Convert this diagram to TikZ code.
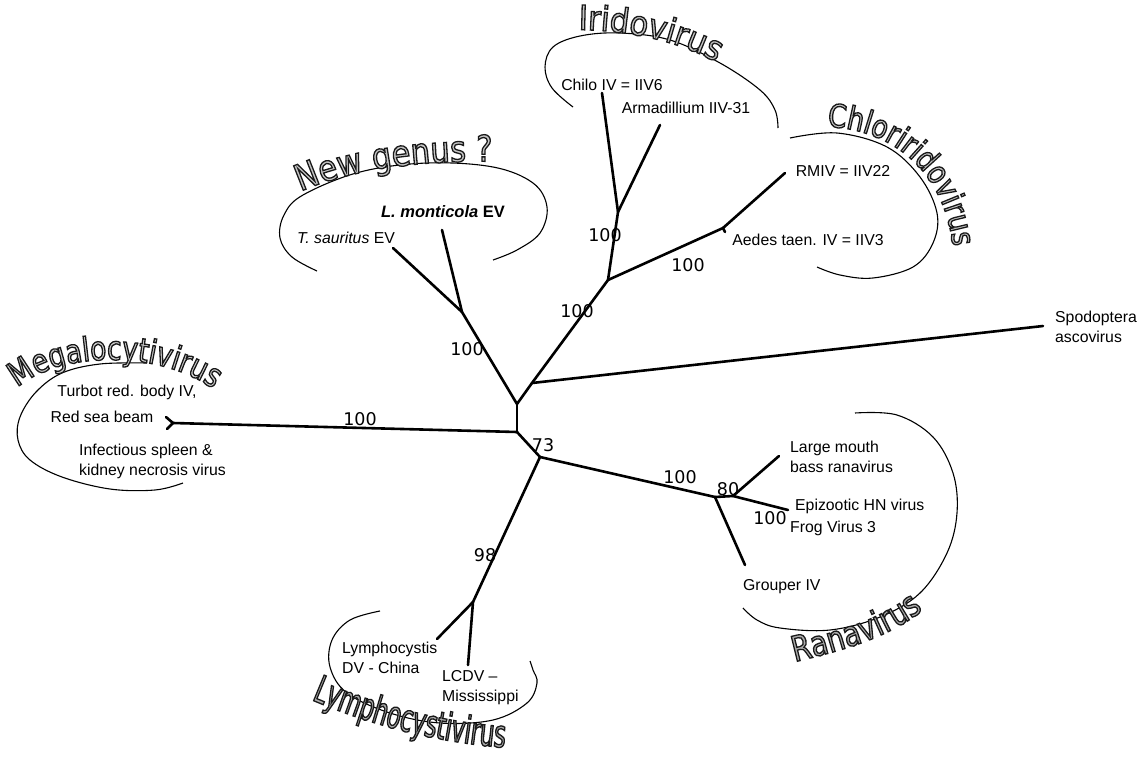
\documentclass[tikz,border=0pt]{standalone}
\usepackage{fontspec}
\setmainfont{Liberation Sans}
\newfontfamily\numfont{DejaVu Sans}
\newfontfamily\gfontA[FakeStretch=0.8]{DejaVu Sans}
\newfontfamily\gfontB[FakeStretch=0.85]{DejaVu Sans}
\newfontfamily\gfontC[FakeStretch=0.9]{DejaVu Sans}
\newfontfamily\gfontD[FakeStretch=0.82]{DejaVu Sans}
\newfontfamily\gcondfont[FakeStretch=0.6]{DejaVu Sans}
\usetikzlibrary{decorations.text}
\newcommand\outl{\special{pdf:literal direct 2 Tr 1.3 w 0.1 G}}
\newcommand\gMega{\gfontA\fontsize{33}{36}\selectfont\color{gray!35}\outl}
\newcommand\gNew{\gfontB\fontsize{36}{40}\selectfont\color{gray!45}\outl}
\newcommand\gIrid{\gfontC\fontsize{34}{38}\selectfont\color{gray!45}\outl}
\newcommand\gChlo{\gfontD\fontsize{32}{36}\selectfont\color{gray!45}\outl}
\newcommand\gRana{\gfontA\fontsize{35}{38}\selectfont\color{gray!65}\outl}
\newcommand\gLymp{\gcondfont\fontsize{38}{42}\selectfont\color{gray!65}\outl}
\begin{document}
\begin{tikzpicture}[x=1pt,y=-1pt,
  branch/.style={line width=2.6pt, line join=round, line cap=round},
  hull/.style={line width=1.1pt},
  leaf/.style={font=\fontsize{15.8}{20}\selectfont, inner sep=0pt, align=left},
  boot/.style={font=\numfont\fontsize{17.5}{20}\selectfont, inner sep=0pt},
  genus/.style={decorate, decoration={text along path, text align=center, text={#1}}}
]
\useasboundingbox[fill=white] (0,0) rectangle (1144,758);

% junctions and tips
\coordinate (A) at (517,432);
\coordinate (B) at (517,404);
\coordinate (C) at (532,383);
\coordinate (D) at (540,457);
\coordinate (E) at (462,312);
\coordinate (tsT) at (393,248);
\coordinate (lmT) at (442,230);
\coordinate (F) at (608,280);
\coordinate (G) at (618,212);
\coordinate (chT) at (602,93);
\coordinate (arT) at (660,125);
\coordinate (H) at (723,228);
\coordinate (rmT) at (785,173);
\coordinate (aeT) at (725,232);
\coordinate (spT) at (1043,326);
\coordinate (M) at (173,423);
\coordinate (M1) at (166,417);
\coordinate (M2) at (167,429);
\coordinate (I) at (715,497);
\coordinate (J) at (733,496);
\coordinate (lgT) at (779,456);
\coordinate (epT) at (788,510);
\coordinate (grT) at (745,565);
\coordinate (K) at (473,602);
\coordinate (lcT) at (437,639);
\coordinate (msT) at (468,665);

% branches
\draw[branch] (A) -- (B);
\draw[branch] (B) -- (C);
\draw[branch] (A) -- (D);
\draw[branch] (A) -- (M);
\draw[branch] (M) -- (M1);
\draw[branch] (M) -- (M2);
\draw[branch] (B) -- (E);
\draw[branch] (E) -- (tsT);
\draw[branch] (E) -- (lmT);
\draw[branch] (C) -- (F);
\draw[branch] (F) -- (G);
\draw[branch] (G) -- (chT);
\draw[branch] (G) -- (arT);
\draw[branch] (F) -- (H);
\draw[branch] (H) -- (rmT);
\draw[branch] (H) -- (aeT);
\draw[branch] (C) -- (spT);
\draw[branch] (D) -- (I);
\draw[branch] (I) -- (J);
\draw[branch] (J) -- (lgT);
\draw[branch] (J) -- (epT);
\draw[branch] (I) -- (grT);
\draw[branch] (D) -- (K);
\draw[branch] (K) -- (lcT);
\draw[branch] (K) -- (msT);

% hulls
\draw[hull] plot[smooth, tension=0.6] coordinates {(147,363) (100,364) (62,373) (36,392) (20,417) (18,440) (30,460) (62,477) (110,489) (155,490) (183,483)};
\draw[hull] plot[smooth, tension=0.6] coordinates {(317,271) (292,257) (280,238) (284,215) (303,195) (360,172) (427,163) (493,167) (533,183) (547,207) (540,233) (517,250) (493,260)};
\draw[hull] plot[smooth, tension=0.6] coordinates {(573,107) (552,88) (545,67) (553,47) (580,36) (620,33) (670,40) (720,63) (760,90) (775,110) (778,128)};
\draw[hull] plot[smooth, tension=0.6] coordinates {(790,138) (837,133) (887,147) (920,177) (937,213) (933,243) (913,267) (873,278) (840,275) (817,267)};
\draw[hull] plot[smooth, tension=0.6] coordinates {(855,413) (897,415) (933,437) (953,473) (957,513) (947,553) (920,593) (880,617) (830,630) (780,628) (757,620) (743,608)};
\draw[hull] plot[smooth, tension=0.6] coordinates {(380,611) (350,620) (332,640) (330,667) (347,693) (390,713) (440,723) (493,720) (527,703) (537,683) (533,670) (530,661)};

% genus names
\path[genus={|\gMega|Megalocytivirus}] (8,398) .. controls (45,348) and (170,346) .. (224,398);
\path[genus={|\gNew|New genus ?}] (285,200) .. controls (330,172) and (420,158) .. (510,162);
\path[genus={|\gIrid|Iridovirus}] (560,30) .. controls (610,28) and (680,36) .. (732,72);
\path[genus={|\gChlo|Chloriridovirus}] (810,127) .. controls (890,122) and (952,172) .. (954,264);
\path[genus={|\gRana|Ranavirus}] (786,664) .. controls (835,652) and (890,640) .. (930,604);
\path[genus={|\gLymp|Lymphocystivirus}] (305,697) .. controls (360,721) and (430,743) .. (512,748);

% leaf labels
\node[leaf] (turbot) at (127,392) {Turbot red. body IV,};
\node[leaf] (redsea) at (102,417) {Red sea beam};
\node[leaf, anchor=west] (infect) at (79,461) {Infectious spleen \&\\kidney necrosis virus};
\node[leaf] (tsaur) at (346,238) {\textit{T. sauritus} EV};
\node[leaf, font=\fontsize{16.5}{20}\selectfont\bfseries] (lmont) at (443,212) {\textit{L. monticola} EV};
\node[leaf] (chilo) at (612,85) {Chilo IV = IIV6};
\node[leaf] (armad) at (686,108) {Armadillium IIV-31};
\node[leaf] (rmiv) at (843,171) {RMIV = IIV22};
\node[leaf] (aedes) at (808,240) {Aedes taen. IV = IIV3};
\node[leaf, anchor=west] (spod) at (1055,327) {Spodoptera\\ascovirus};
\node[leaf, anchor=west] (large) at (790,457) {Large mouth\\bass ranavirus};
\node[leaf, anchor=west] (epiz) at (795,506) {Epizootic HN virus};
\node[leaf, anchor=west] (frog) at (790,528) {Frog Virus 3};
\node[leaf, anchor=west] (grouper) at (743,587) {Grouper IV};
\node[leaf, anchor=west] (lchina) at (342,658) {Lymphocystis\\DV - China};
\node[leaf, anchor=west] (lcdv) at (442,688) {LCDV --\\Mississippi};

% bootstrap values
\node[boot] (b1) at (360,419) {100};
\node[boot] (b2) at (467,349) {100};
\node[boot] (b3) at (577,311) {100};
\node[boot] (b4) at (605,235) {100};
\node[boot] (b5) at (688,265) {100};
\node[boot] (b6) at (543,445) {73};
\node[boot] (b7) at (680,477) {100};
\node[boot] (b8) at (728,489) {80};
\node[boot] (b9) at (770,518) {100};
\node[boot] (b10) at (485,555) {98};
\end{tikzpicture}
\end{document}
